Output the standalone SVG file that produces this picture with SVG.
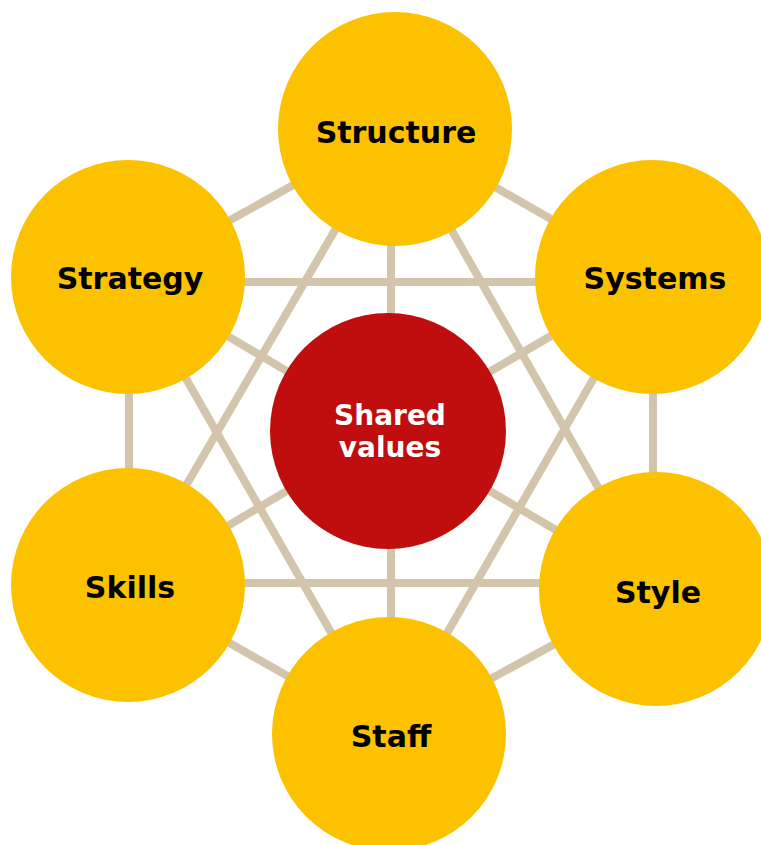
<svg xmlns="http://www.w3.org/2000/svg" width="761" height="845" viewBox="0 0 761 845">
<style>
.edge{stroke:#D3C4AC;stroke-width:8;fill:none}
.outer{fill:#FCC200}
.core{fill:#C00E0E}
.lbl{font-family:"DejaVu Sans",Verdana,sans-serif;font-weight:bold;font-size:30px;text-anchor:middle;fill:#000}
.lblw{font-family:"DejaVu Sans",Verdana,sans-serif;font-weight:bold;font-size:28px;text-anchor:middle;fill:#fff}
</style>
<rect width="761" height="845" fill="#fff"/>
<g id="connectors">
<line class="edge" x1="394" y1="129" x2="128" y2="277"/>
<line class="edge" x1="394" y1="129" x2="652" y2="277"/>
<line class="edge" x1="129" y1="277" x2="129" y2="585"/>
<line class="edge" x1="653" y1="277" x2="653" y2="589"/>
<line class="edge" x1="128" y1="585" x2="389" y2="734"/>
<line class="edge" x1="656" y1="589" x2="389" y2="734"/>
<line class="edge" x1="128" y1="282" x2="652" y2="282"/>
<line class="edge" x1="128" y1="583" x2="656" y2="583"/>
<line class="edge" x1="391" y1="129" x2="391" y2="734"/>
<line class="edge" x1="394" y1="129" x2="128" y2="585"/>
<line class="edge" x1="394" y1="129" x2="656" y2="589"/>
<line class="edge" x1="128" y1="277" x2="389" y2="734"/>
<line class="edge" x1="652" y1="277" x2="389" y2="734"/>
<line class="edge" x1="128" y1="277" x2="388" y2="431"/>
<line class="edge" x1="652" y1="277" x2="388" y2="431"/>
<line class="edge" x1="128" y1="585" x2="388" y2="431"/>
<line class="edge" x1="656" y1="589" x2="388" y2="431"/>
</g>
<g id="structure"><circle class="outer" cx="395" cy="129" r="117"/><text class="lbl" x="396" y="143">Structure</text></g>
<g id="strategy"><circle class="outer" cx="128" cy="277" r="117"/><text class="lbl" x="130" y="289">Strategy</text></g>
<g id="systems"><circle class="outer" cx="652" cy="277" r="117"/><text class="lbl" x="655" y="289">Systems</text></g>
<g id="shared-values"><circle class="core" cx="388" cy="431" r="118"/><text class="lblw" x="390" y="425">Shared</text><text class="lblw" x="390" y="457">values</text></g>
<g id="skills"><circle class="outer" cx="128" cy="585" r="117"/><text class="lbl" x="130" y="598">Skills</text></g>
<g id="style"><circle class="outer" cx="656" cy="589" r="117"/><text class="lbl" x="658" y="603">Style</text></g>
<g id="staff"><circle class="outer" cx="389" cy="734" r="117"/><text class="lbl" x="391" y="747">Staff</text></g>
</svg>
